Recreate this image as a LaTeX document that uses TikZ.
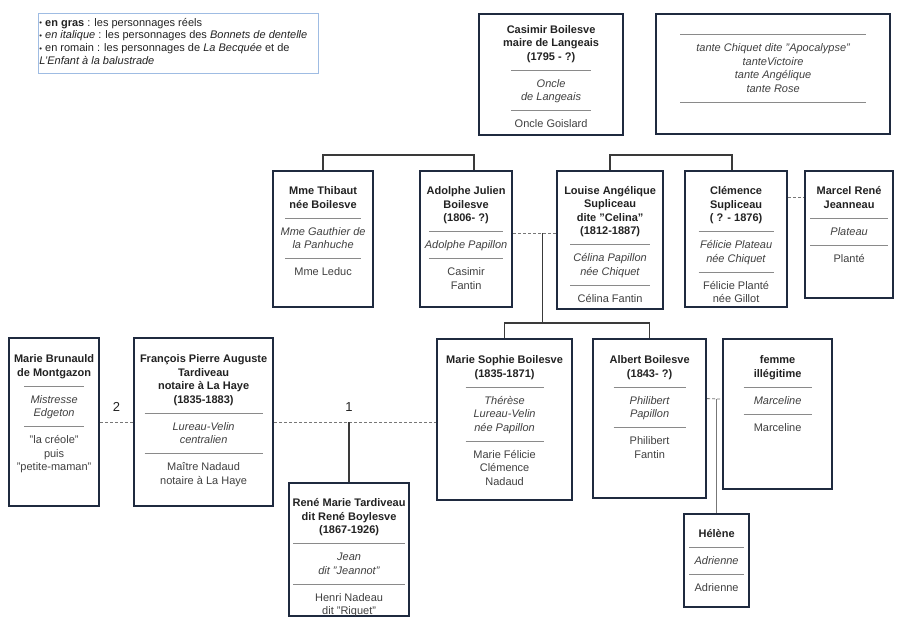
\documentclass[tikz,border=0pt]{standalone}
\usepackage{fontspec}
\setmainfont{Liberation Sans}
\usetikzlibrary{calc}
\definecolor{cadre}{HTML}{1F2A3F}
\definecolor{legende}{HTML}{9FBCE3}
\definecolor{trait}{HTML}{8A8A8A}
\definecolor{texte}{HTML}{404040}
\definecolor{nom}{HTML}{222222}
\definecolor{lienc}{HTML}{3A3A3A}
\definecolor{pointc}{HTML}{777777}
\newcommand{\Nom}[1]{{\bfseries\color{nom}#1}}
\newcommand{\Puce}{\raisebox{0.5pt}{\scalebox{0.7}{•}}}
\newcommand{\Sep}{\par\vspace{-3pt}{\color{trait}\rule{\Rw}{0.8pt}}\par\vspace{3pt}}
\newcommand{\Fiche}[5][14pt]{\begin{minipage}[t][#3][t]{#2}\centering\def\Rw{#4}\color{texte}\vspace*{#1}\strut#5\end{minipage}}

\begin{document}
\begin{tikzpicture}[x=1pt, y=-1pt, font=\fontsize{11}{13.5}\selectfont]

  \tikzset{
    fiche/.style={draw=cadre, line width=2.2pt, fill=white, inner sep=0pt, anchor=north west},
    lien/.style={draw=lienc, line width=1.3pt},
    pointille/.style={draw=pointc, line width=0.8pt, dash pattern=on 3pt off 2pt},
    rang/.style={above=7pt, font=\fontsize{13}{15}\selectfont, text=nom}
  }

  \useasboundingbox (0,0) rectangle (900,628);

  \node[draw=legende, line width=0.8pt, inner sep=0pt, anchor=north west] (legende) at (38,13)
    {\begin{minipage}[t][60pt][t]{280pt}\fontsize{11}{12.7}\selectfont\color{nom}\vspace*{4pt}\strut
      \hspace*{1pt}\Puce\ \textbf{en gras} : les personnages réels\\
      \hspace*{1pt}\Puce\ \textit{en italique} : les personnages des \textit{Bonnets de dentelle}\\
      \hspace*{1pt}\Puce\ en romain : les personnages de \textit{La Becquée} et de\\
      \hspace*{1pt}\textit{L'Enfant à la balustrade}\end{minipage}};

  %% top row
  \node[fiche] (casimir) at (478,13) {\Fiche[9.5pt]{144pt}{121pt}{80pt}{\Nom{Casimir Boilesve\\maire de Langeais\\(1795 - ?)}\Sep\textit{Oncle\\de Langeais}\Sep Oncle Goislard}};
  \node[fiche] (tantes) at (655,13) {\Fiche[1pt]{234pt}{120pt}{186pt}{\Sep\textit{tante Chiquet dite "Apocalypse"\\tanteVictoire\\tante Angélique\\tante Rose}\Sep}};

  %% second row
  \node[fiche] (thibaut) at (272,170) {\Fiche{100pt}{136pt}{76pt}{\Nom{Mme Thibaut\\née Boilesve}\Sep\textit{Mme Gauthier de\\la Panhuche}\Sep Mme Leduc}};
  \node[fiche] (adolphe) at (419,170) {\Fiche{92pt}{136pt}{74pt}{\Nom{Adolphe Julien\\Boilesve\\(1806- ?)}\Sep\textit{Adolphe Papillon}\Sep Casimir\\Fantin}};
  \node[fiche] (louise) at (556,170) {\Fiche[13.5pt]{106pt}{138pt}{80pt}{\Nom{Louise Angélique\\Supliceau\\dite "Celina"\\(1812-1887)}\Sep\textit{Célina Papillon\\née Chiquet}\Sep Célina Fantin}};
  \node[fiche] (clemence) at (684,170) {\Fiche{102pt}{136pt}{75pt}{\Nom{Clémence\\Supliceau\\( ? - 1876)}\Sep\textit{Félicie Plateau\\née Chiquet}\Sep Félicie Planté\\née Gillot}};
  \node[fiche] (marcel) at (804,170) {\Fiche{88pt}{127pt}{78pt}{\Nom{Marcel René\\Jeanneau}\Sep\textit{Plateau}\Sep Planté}};

  %% third row
  \node[fiche] (brunauld) at (8,337) {\Fiche[15pt]{90pt}{168pt}{60pt}{\Nom{Marie Brunauld\\de Montgazon}\Sep\textit{Mistresse\\Edgeton}\Sep "la créole"\\puis\\"petite-maman"}};
  \node[fiche] (francois) at (133,337) {\Fiche[15pt]{139pt}{168pt}{118pt}{\Nom{François Pierre Auguste\\Tardiveau\\notaire à La Haye\\(1835-1883)}\Sep\textit{Lureau-Velin\\centralien}\Sep Maître Nadaud\\notaire à La Haye}};
  \node[fiche] (sophie) at (436,338) {\Fiche[15pt]{135pt}{161pt}{78pt}{\Nom{Marie Sophie Boilesve\\(1835-1871)}\Sep\textit{Thérèse\\Lureau-Velin\\née Papillon}\Sep Marie Félicie\\Clémence\\Nadaud}};
  \node[fiche] (albert) at (592,338) {\Fiche[15pt]{113pt}{159pt}{72pt}{\Nom{Albert Boilesve\\(1843- ?)}\Sep\textit{Philibert\\Papillon}\Sep Philibert\\Fantin}};
  \node[fiche] (femme) at (722,338) {\Fiche[15pt]{109pt}{150pt}{68pt}{\Nom{femme\\illégitime}\Sep\textit{Marceline}\Sep Marceline}};

  %% bottom row
  \node[fiche] (rene) at (288,482) {\Fiche{120pt}{133pt}{112pt}{\Nom{René Marie Tardiveau\\dit René Boylesve\\(1867-1926)}\Sep\textit{Jean\\dit "Jeannot"}\Sep Henri Nadeau\\dit "Riquet"}};
  \node[fiche] (helene) at (683,513) {\Fiche{65pt}{93pt}{55pt}{\Nom{Hélène}\Sep\textit{Adrienne}\Sep Adrienne}};

  %% siblings
  \draw[lien] (thibaut.north) -- ++(0,-15) -| ([xshift=8pt]adolphe.north); %% Thibaut-Adolphe
  \draw[lien] (louise.north) -- ++(0,-15) -| ([xshift=-4pt]clemence.north); %% Louise-Clemence

  %% couples
  \draw[pointille] ([yshift=6pt]adolphe.east) -- ([yshift=7pt]louise.west) coordinate[pos=0.68] (u1); %% Adolphe-Louise
  \draw[pointille] ([yshift=42pt]clemence.east) -- ([yshift=37.5pt]marcel.west); %% Clemence-Marcel
  \draw[pointille] (brunauld.east) -- node[rang]{2} (francois.west); %% Brunauld-Francois
  \draw[pointille] (francois.east) -- (sophie.west |- francois.east); %% Francois-Sophie
  \draw[pointille] ([yshift=20pt]albert.east) -- ([yshift=15pt]femme.west) coordinate[pos=0.5] (u3); %% Albert-femme

  %% children
  \coordinate (b1) at ($(sophie.north)+(0,-15)$);
  \draw[lien] (u1) -- (u1 |- b1);
  \draw[lien] (sophie.north) -- (b1) -| (albert.north); %% Sophie, Albert
  \coordinate (u2) at (rene.north |- francois.east);
  \node[rang] at (u2) {1};
  \draw[lien] (u2) -- (rene.north); %% Rene
  \draw[lien, draw=pointc] (u3 -| helene.north) -- (helene.north); %% Helene

\end{tikzpicture}
\end{document}
